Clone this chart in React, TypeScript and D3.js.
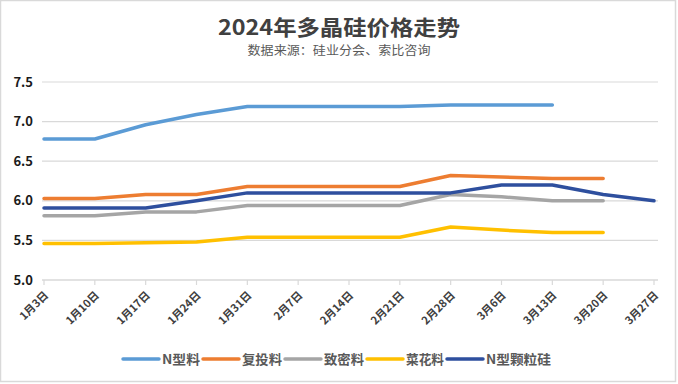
import React from "react";
import * as d3 from "d3";

const dates = ["1月3日", "1月10日", "1月17日", "1月24日", "1月31日", "2月7日", "2月14日", "2月21日", "2月28日", "3月6日", "3月13日", "3月20日", "3月27日"];
const seriesNames = ["N型料", "复投料", "致密料", "菜花料", "N型颗粒硅"];
const seriesColors = ["#5B9BD5", "#ED7D31", "#A5A5A5", "#FFC000", "#2E4F9E"];
const nType = [6.78, 6.78, 6.96, 7.09, 7.19, 7.19, 7.19, 7.19, 7.21, 7.21, 7.21, null, null];
const reFeed = [6.03, 6.03, 6.08, 6.08, 6.18, 6.18, 6.18, 6.18, 6.32, 6.30, 6.28, 6.28, null];
const dense = [5.81, 5.81, 5.86, 5.86, 5.94, 5.94, 5.94, 5.94, 6.08, 6.05, 6.00, 6.00, null];
const cauliflower = [5.46, 5.46, 5.47, 5.48, 5.54, 5.54, 5.54, 5.54, 5.67, 5.63, 5.60, 5.60, null];
const granular = [5.91, 5.91, 5.91, 6.00, 6.10, 6.10, 6.10, 6.10, 6.10, 6.20, 6.20, 6.08, 6.00];
const seriesValues = [nType, reFeed, dense, cauliflower, granular];
const yTicks = [5.0, 5.5, 6.0, 6.5, 7.0, 7.5];
const legendLengths = [38, 40, 40, 38, 65];

const W = 678;
const H = 384;
const font = "'Microsoft YaHei', 'Noto Sans CJK SC', 'Noto Sans', sans-serif";

export default function App() {
  const x = d3.scalePoint<string>().domain(dates).range([44, 654]);
  const y = d3.scaleLinear().domain([5, 7.5]).range([280, 82]);
  const line = d3
    .line<number | null>()
    .defined((d) => d != null)
    .x((_, i) => x(dates[i]) as number)
    .y((d) => y(d as number))
    .curve(d3.curveLinear);

  // legend layout
  const sample = 36;
  const gap = 3;
  let cursor = 123;
  const legendItems = seriesNames.map((name, i) => {
    const item = { name, color: seriesColors[i], x: cursor, tw: legendLengths[i] };
    cursor += sample + gap + legendLengths[i] + 3;
    return item;
  });

  return (
    <div style={{ position: "fixed", left: 0, top: 0 }}>
      <svg width={W} height={H} style={{ display: "block", background: "#fff" }}>
        <rect x={0.5} y={0.5} width={W - 3} height={H - 3} fill="#fff" stroke="#d9d9d9" strokeWidth={1.5} />
        <text x={339} y={35} textAnchor="middle" fontFamily={font} fontWeight="bold" fontSize={21} fill="#404040" textLength={242} lengthAdjust="spacingAndGlyphs">
          2024年多晶硅价格走势
        </text>
        <text x={339} y={55} textAnchor="middle" fontFamily={font} fontSize={12} fill="#595959" textLength={183} lengthAdjust="spacingAndGlyphs">
          数据来源：硅业分会、索比咨询
        </text>

        {yTicks.map((t) => (
          <g key={t}>
            {t > 5 && <line x1={42} x2={658} y1={y(t)} y2={y(t)} stroke="#d9d9d9" strokeWidth={1.2} />}
            <text x={33} y={y(t)} dy="0.35em" textAnchor="end" fontFamily={font} fontWeight="bold" fontSize={13} fill="#1a1a1a">
              {d3.format(".1f")(t)}
            </text>
          </g>
        ))}

        <line x1={42} x2={658} y1={280} y2={280} stroke="#d9d9d9" strokeWidth={1.5} />
        {dates.map((d) => (
          <g key={d} transform={`translate(${x(d)},280)`}>
            <line y1={0} y2={5} stroke="#d9d9d9" strokeWidth={1.2} />
            <text transform="translate(5,16) rotate(-45)" textAnchor="end" fontFamily={font} fontWeight="bold" fontSize={11} fill="#404040">
              {d}
            </text>
          </g>
        ))}

        {seriesValues.map((vals, i) => (
          <path key={i} d={line(vals) || ""} fill="none" stroke={seriesColors[i]} strokeWidth={3.5} strokeLinejoin="round" strokeLinecap="round" />
        ))}

        {legendItems.map((it) => (
          <g key={it.name} transform={`translate(${it.x},359)`}>
            <line x1={0} x2={sample} y1={0} y2={0} stroke={it.color} strokeWidth={3.5} strokeLinecap="round" />
            <text x={sample + gap} y={0} dy="0.36em" fontFamily={font} fontWeight="bold" fontSize={13} fill="#595959" textLength={it.tw} lengthAdjust="spacingAndGlyphs">
              {it.name}
            </text>
          </g>
        ))}
      </svg>
    </div>
  );
}
